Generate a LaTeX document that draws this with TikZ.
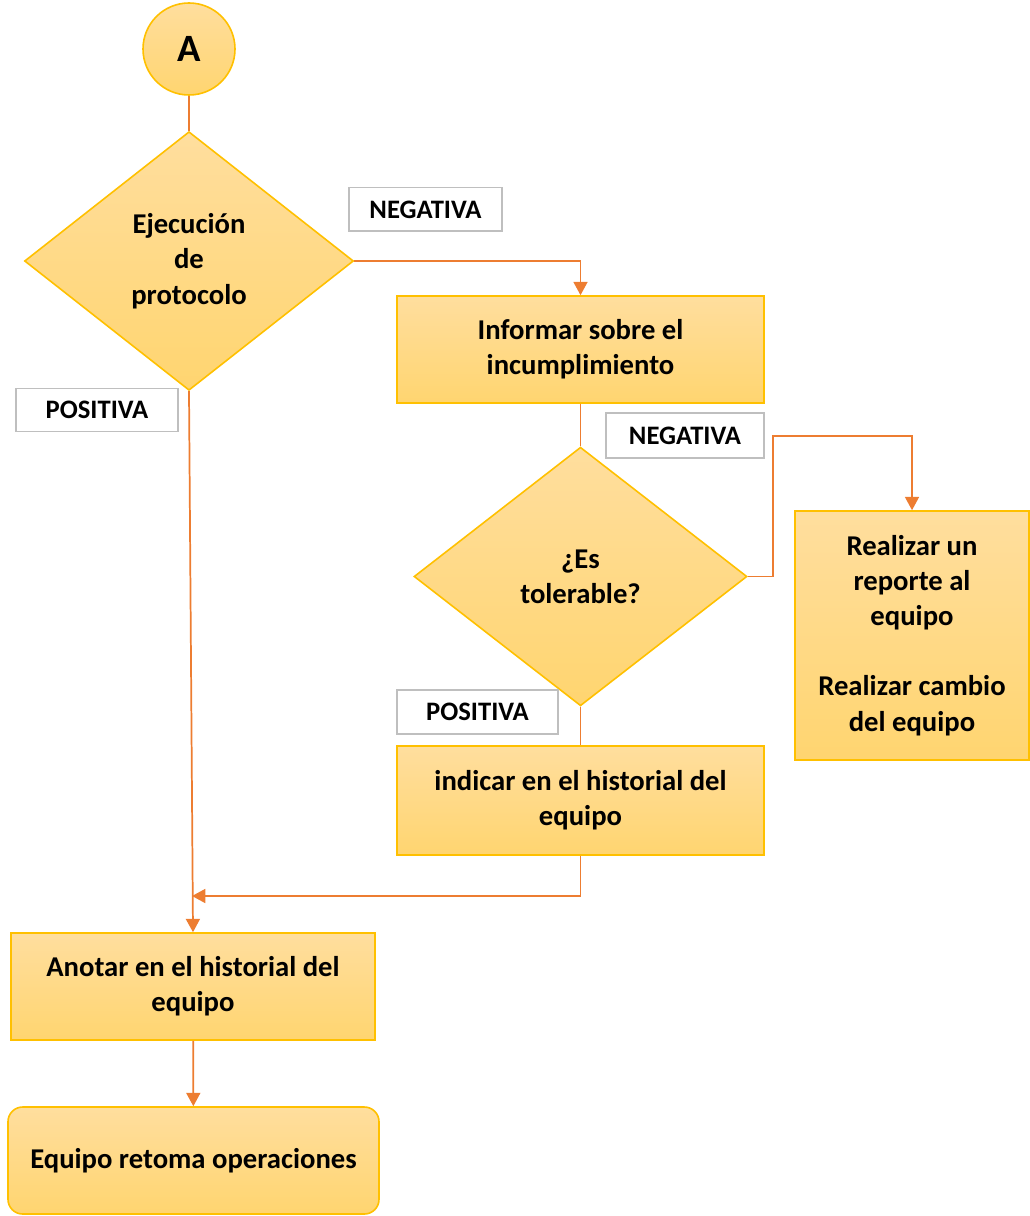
\documentclass[tikz,border=0pt]{standalone}
\usepackage{fontspec}
\setmainfont{Carlito}
\usetikzlibrary{shapes,arrows.meta,positioning}

\definecolor{boxtop}{RGB}{255,222,158}
\definecolor{boxbot}{RGB}{255,213,112}
\definecolor{boxline}{RGB}{255,192,0}
\definecolor{flow}{RGB}{237,125,49}
\definecolor{tagline}{RGB}{191,191,191}

\begin{document}
\begin{tikzpicture}[x=0.75pt,y=-0.75pt]
	\tikzset{
		block/.style={draw=boxline,line width=1.2pt,top color=boxtop,bottom color=boxbot,
			align=center,font=\fontsize{21.5}{26.5}\selectfont\bfseries,inner sep=2pt},
		process/.style={block,rectangle,minimum width=#1,minimum height=80.25pt},
		decision/.style={block,diamond,inner sep=0pt,minimum width=#1,minimum height=194pt},
		tag/.style={draw=tagline,line width=1pt,fill=white,minimum width=#1,minimum height=32.5pt,
			font=\fontsize{20}{24}\selectfont\bfseries},
		flowline/.style={draw=flow,line width=1.3pt},
		flowarrow/.style={flowline,-{Triangle[width=10.5pt,length=10pt]}}
	}
	\useasboundingbox (0,0) rectangle (1030,1216);
	% shapes
	\node[block,circle,minimum size=69pt,font=\fontsize{29}{32}\selectfont\bfseries] (start) at (189,49) {A};
	\node[decision=246.75pt] (exec) at (189,261) {Ejecución\\de\\protocolo};
	\node[process=275.25pt] (inform) at (580.5,349.5) {Informar sobre el\\incumplimiento};
	\node[decision=249.75pt] (toler) at (580.5,576.5) {¿Es\\tolerable?};
	\node[process=175.5pt,minimum height=186.75pt] (report) at (912,635.5) {Realizar un\\reporte al\\equipo\\[26pt]Realizar cambio\\del equipo};
	\node[process=275.25pt,minimum height=81.75pt] (record) at (580.5,800.5) {indicar en el historial del\\equipo};
	\node[process=273pt] (note) at (193,986.5) {Anotar en el historial del\\equipo};
	\node[process=278.25pt,rounded corners=11pt] (resume) at (193.5,1160.5) {Equipo retoma operaciones};
	% answers
	\node[tag=114.75pt] (neg1) at (425.5,209.5) {NEGATIVA};
	\node[tag=121.5pt] (pos1) at (97,410) {POSITIVA};
	\node[tag=118.5pt,minimum height=33.75pt] (neg2) at (685,435.5) {NEGATIVA};
	\node[tag=120.75pt,minimum height=33pt] (pos2) at (477.5,712) {POSITIVA};
	% connectors
	\coordinate (bend) at (773,436);
	\coordinate (join) at (192,896);
	\draw[flowline] (start) -- (exec);
	\draw[flowarrow] (exec.east) -| (inform.north);
	\draw[flowarrow] (exec.south) -- (note.north);
	\draw[flowline] (inform) -- (toler);
	\draw[flowarrow] (toler.east) -| (bend) -| (report.north);
	\draw[flowline] (toler) -- (record);
	\draw[flowarrow] (record.south) |- (join);
	\draw[flowarrow] (note) -- (resume);
\end{tikzpicture}
\end{document}
